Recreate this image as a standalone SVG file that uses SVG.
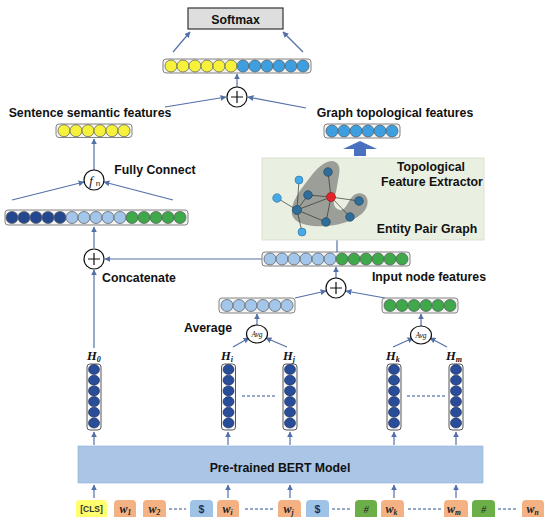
<svg xmlns="http://www.w3.org/2000/svg" width="550" height="526" viewBox="0 0 550 526">
<style>
.lbl{font-family:"Liberation Sans",Arial,sans-serif;font-weight:bold;font-size:12.3px;fill:#111}
.row{fill:#f4f4f4;stroke:#777;stroke-width:0.9}
.col{fill:#fafafa;stroke:#444;stroke-width:0.9}
.c{stroke:#555;stroke-width:0.7}
.y{fill:#f6f23c}
.b{fill:#3d9fe0}
.db{fill:#24488f}
.lb{fill:#a3c6ea}
.g{fill:#3ea84a}
.cd{fill:#2a4d9a;stroke:#1a2a50;stroke-width:0.6}
.ln{stroke:#5470a8;stroke-width:1.2;fill:none}
.dash{stroke:#2f4f8f;stroke-width:1;stroke-dasharray:3,2;fill:none}
.op{fill:#fff;stroke:#111;stroke-width:1.2}
.H{font-family:"Liberation Serif","Times New Roman",serif;font-weight:bold;font-style:italic;font-size:12.5px;fill:#111}
.tk{stroke:none}
.w{font-family:"Liberation Serif","Times New Roman",serif;font-weight:bold;font-style:italic;font-size:12px;fill:#222}
.e{stroke:#333;stroke-width:0.7}
.nd{fill:#2e6e98;stroke:#1b3f5a;stroke-width:0.6}
.nl{fill:#46a8e4;stroke:#2a6e9e;stroke-width:0.6}
.avg{font-family:"Liberation Serif","Times New Roman",serif;font-style:italic;font-size:7.5px;fill:#111}
</style>
<defs>
<marker id="ar" viewBox="0 0 10 10" refX="9" refY="5" markerWidth="6" markerHeight="6" markerUnits="userSpaceOnUse" orient="auto">
<path d="M0,0 L10,5 L0,10 z" fill="#5470a8"/>
</marker>
</defs>

<g id="connectors">
<line class="ln" x1="173" y1="52" x2="190" y2="32" marker-end="url(#ar)"/>
<line class="ln" x1="303" y1="52" x2="283" y2="32" marker-end="url(#ar)"/>
<line class="ln" x1="237" y1="87" x2="237" y2="74" marker-end="url(#ar)"/>
<line class="ln" x1="165" y1="107" x2="226" y2="97" marker-end="url(#ar)"/>
<line class="ln" x1="306" y1="108" x2="248" y2="97" marker-end="url(#ar)"/>
<line class="ln" x1="94" y1="170" x2="94" y2="139" marker-end="url(#ar)"/>
<line class="ln" x1="12" y1="200" x2="84" y2="182" marker-end="url(#ar)"/>
<line class="ln" x1="173" y1="200" x2="104" y2="182" marker-end="url(#ar)"/>
<line class="ln" x1="94" y1="248" x2="94" y2="227" marker-end="url(#ar)"/>
<line class="ln" x1="262" y1="259" x2="105" y2="259" marker-end="url(#ar)"/>
<line class="ln" x1="94" y1="348" x2="94" y2="270" marker-end="url(#ar)"/>
<line class="ln" x1="337" y1="252" x2="337" y2="208"/>
<line class="ln" x1="336" y1="278" x2="336" y2="267" marker-end="url(#ar)"/>
<line class="ln" x1="295" y1="298" x2="326" y2="291" marker-end="url(#ar)"/>
<line class="ln" x1="385" y1="298" x2="346" y2="291" marker-end="url(#ar)"/>
<line class="ln" x1="257" y1="325" x2="257" y2="314" marker-end="url(#ar)"/>
<line class="ln" x1="421" y1="326" x2="421" y2="314" marker-end="url(#ar)"/>
<line class="ln" x1="233" y1="347" x2="249" y2="338" marker-end="url(#ar)"/>
<line class="ln" x1="287" y1="347" x2="266" y2="338" marker-end="url(#ar)"/>
<line class="ln" x1="393" y1="347" x2="413" y2="338" marker-end="url(#ar)"/>
<line class="ln" x1="447" y1="347" x2="430" y2="338" marker-end="url(#ar)"/>
<g>
<line class="ln" x1="94" y1="445" x2="94" y2="432" marker-end="url(#ar)"/>
<line class="ln" x1="228" y1="445" x2="228" y2="432" marker-end="url(#ar)"/>
<line class="ln" x1="290" y1="445" x2="290" y2="432" marker-end="url(#ar)"/>
<line class="ln" x1="394" y1="445" x2="394" y2="432" marker-end="url(#ar)"/>
<line class="ln" x1="456" y1="445" x2="456" y2="432" marker-end="url(#ar)"/>
<line class="ln" x1="94" y1="498" x2="94" y2="485" marker-end="url(#ar)"/>
<line class="ln" x1="228" y1="498" x2="228" y2="485" marker-end="url(#ar)"/>
<line class="ln" x1="290" y1="498" x2="290" y2="485" marker-end="url(#ar)"/>
<line class="ln" x1="394" y1="498" x2="394" y2="485" marker-end="url(#ar)"/>
<line class="ln" x1="456" y1="498" x2="456" y2="485" marker-end="url(#ar)"/>
</g>
<line class="dash" x1="242" y1="396" x2="277" y2="396"/>
<line class="dash" x1="407" y1="396" x2="445" y2="396"/>
</g>

<g id="softmax">
<rect x="188" y="8" width="95" height="21" fill="#dedede" stroke="#333" stroke-width="1.2"/>
<text class="lbl" x="235.5" y="24" text-anchor="middle" font-size="15">Softmax</text>
</g>

<g id="final-row">
<rect class="row" x="163" y="59" width="148" height="14" rx="3"/>
<circle class="c y" cx="171" cy="66" r="6"/><circle class="c y" cx="183" cy="66" r="6"/><circle class="c y" cx="195" cy="66" r="6"/><circle class="c y" cx="207" cy="66" r="6"/><circle class="c y" cx="219" cy="66" r="6"/><circle class="c y" cx="231" cy="66" r="6"/>
<circle class="c b" cx="243" cy="66" r="6"/><circle class="c b" cx="255" cy="66" r="6"/><circle class="c b" cx="267" cy="66" r="6"/><circle class="c b" cx="279" cy="66" r="6"/><circle class="c b" cx="291" cy="66" r="6"/><circle class="c b" cx="303" cy="66" r="6"/>
</g>

<g id="plus-top">
<circle class="op" cx="237" cy="97" r="10"/>
<path d="M231,97 H243 M237,91 V103" stroke="#111" stroke-width="1.2"/>
</g>

<g id="sentence-features">
<text class="lbl" x="90" y="117" text-anchor="middle">Sentence semantic features</text>
<rect class="row" x="56" y="124" width="76" height="13.5" rx="3"/>
<circle class="c y" cx="64" cy="130.7" r="6"/><circle class="c y" cx="76" cy="130.7" r="6"/><circle class="c y" cx="88" cy="130.7" r="6"/><circle class="c y" cx="100" cy="130.7" r="6"/><circle class="c y" cx="112" cy="130.7" r="6"/><circle class="c y" cx="124" cy="130.7" r="6"/>
</g>

<g id="graph-features">
<text class="lbl" x="395" y="117" text-anchor="middle" font-size="12.8">Graph topological features</text>
<rect class="row" x="324" y="124" width="76" height="14" rx="3"/>
<circle class="c b" cx="332" cy="131" r="6"/><circle class="c b" cx="344" cy="131" r="6"/><circle class="c b" cx="356" cy="131" r="6"/><circle class="c b" cx="368" cy="131" r="6"/><circle class="c b" cx="380" cy="131" r="6"/><circle class="c b" cx="392" cy="131" r="6"/>
<path d="M343,149 L360,141 L377,149 L366,149 L366,156 L354,156 L354,149 Z" fill="#4a70c0"/>
</g>

<g id="fn-node">
<circle class="op" cx="94" cy="180" r="10"/>
<text x="91" y="184.5" text-anchor="middle" font-family="Liberation Serif,serif" font-style="italic" font-size="13" fill="#111">f</text>
<text x="98" y="186" text-anchor="middle" font-family="Liberation Sans,sans-serif" font-size="8" fill="#111">n</text>
<text class="lbl" x="155" y="174" text-anchor="middle">Fully Connect</text>
</g>

<g id="concat-row">
<rect class="row" x="5" y="210" width="183" height="15" rx="3"/>
<circle class="c db" cx="12" cy="217.5" r="6"/><circle class="c db" cx="24" cy="217.5" r="6"/><circle class="c db" cx="36" cy="217.5" r="6"/><circle class="c db" cx="48" cy="217.5" r="6"/><circle class="c db" cx="60" cy="217.5" r="6"/>
<circle class="c lb" cx="72" cy="217.5" r="6"/><circle class="c lb" cx="84" cy="217.5" r="6"/><circle class="c lb" cx="96" cy="217.5" r="6"/><circle class="c lb" cx="108" cy="217.5" r="6"/><circle class="c lb" cx="120" cy="217.5" r="6"/>
<circle class="c g" cx="132" cy="217.5" r="6"/><circle class="c g" cx="144" cy="217.5" r="6"/><circle class="c g" cx="156" cy="217.5" r="6"/><circle class="c g" cx="168" cy="217.5" r="6"/><circle class="c g" cx="180" cy="217.5" r="6"/>
</g>

<g id="plus-concat">
<circle class="op" cx="94" cy="259" r="10"/>
<path d="M88,259 H100 M94,253 V265" stroke="#111" stroke-width="1.2"/>
<text class="lbl" x="139" y="282" text-anchor="middle">Concatenate</text>
</g>

<g id="graph-panel">
<rect x="262" y="158" width="222" height="82" fill="#eaf0e1" stroke="#d6dccb" stroke-width="0.8"/>
<path d="M325,163 C333,158 342,162 339,175 L336,192 C333,200 332,208 340,210 C346,211 348,200 354,195 C362,190 370,196 367,206 C364,216 350,222 335,225 C318,228 298,226 293,217 C288,206 300,190 308,180 C314,172 318,167 325,163 Z" fill="#9c9e98"/>
<g>
<line class="e" x1="297" y1="210" x2="277" y2="198"/>
<line class="e" x1="297" y1="210" x2="299" y2="180"/>
<line class="e" x1="297" y1="210" x2="308" y2="195"/>
<line class="e" x1="297" y1="210" x2="331" y2="197"/>
<line class="e" x1="297" y1="210" x2="326" y2="222"/>
<line class="e" x1="297" y1="210" x2="302" y2="232"/>
<line class="e" x1="331" y1="197" x2="328" y2="172"/>
<line class="e" x1="331" y1="197" x2="308" y2="195"/>
<line class="e" x1="331" y1="197" x2="359" y2="201"/>
<line class="e" x1="331" y1="197" x2="350" y2="217"/>
<line class="e" x1="331" y1="197" x2="326" y2="222"/>
</g>
<circle class="nd" cx="328" cy="172" r="4.3"/>
<circle class="nl" cx="299" cy="180" r="4"/>
<circle class="nl" cx="277" cy="198" r="4.3"/>
<circle class="nd" cx="308" cy="195" r="4.3"/>
<circle class="nd" cx="297" cy="210" r="4.5"/>
<circle class="nd" cx="359" cy="201" r="4.3"/>
<circle class="nd" cx="350" cy="217" r="4.3"/>
<circle class="nd" cx="326" cy="222" r="4.3"/>
<circle class="nl" cx="302" cy="232" r="4"/>
<circle cx="331" cy="197" r="4.5" fill="#e3242b" stroke="#8a1010" stroke-width="0.6"/>
<text class="lbl" x="431" y="171" text-anchor="middle" font-size="12.8">Topological</text>
<text class="lbl" x="432" y="186" text-anchor="middle" font-size="12.8">Feature Extractor</text>
<text class="lbl" x="427" y="233" text-anchor="middle" font-size="12.8">Entity Pair Graph</text>
</g>

<g id="input-row">
<rect class="row" x="262" y="252" width="148" height="14" rx="3"/>
<circle class="c lb" cx="270" cy="259" r="6"/><circle class="c lb" cx="282" cy="259" r="6"/><circle class="c lb" cx="294" cy="259" r="6"/><circle class="c lb" cx="306" cy="259" r="6"/><circle class="c lb" cx="318" cy="259" r="6"/><circle class="c lb" cx="330" cy="259" r="6"/>
<circle class="c g" cx="342" cy="259" r="6"/><circle class="c g" cx="354" cy="259" r="6"/><circle class="c g" cx="366" cy="259" r="6"/><circle class="c g" cx="378" cy="259" r="6"/><circle class="c g" cx="390" cy="259" r="6"/><circle class="c g" cx="402" cy="259" r="6"/>
<text class="lbl" x="429" y="281" text-anchor="middle" font-size="12.8">Input node features</text>
</g>

<g id="plus-input">
<circle class="op" cx="336" cy="288" r="10"/>
<path d="M330,288 H342 M336,282 V294" stroke="#111" stroke-width="1.2"/>
</g>

<g id="avg-row-1">
<rect class="row" x="219" y="298" width="76" height="15" rx="3"/>
<circle class="c lb" cx="227" cy="305.5" r="6"/><circle class="c lb" cx="239" cy="305.5" r="6"/><circle class="c lb" cx="251" cy="305.5" r="6"/><circle class="c lb" cx="263" cy="305.5" r="6"/><circle class="c lb" cx="275" cy="305.5" r="6"/><circle class="c lb" cx="287" cy="305.5" r="6"/>
</g>
<g id="avg-row-2">
<rect class="row" x="382" y="298" width="76" height="15" rx="3"/>
<circle class="c g" cx="390" cy="305.5" r="6"/><circle class="c g" cx="402" cy="305.5" r="6"/><circle class="c g" cx="414" cy="305.5" r="6"/><circle class="c g" cx="426" cy="305.5" r="6"/><circle class="c g" cx="438" cy="305.5" r="6"/><circle class="c g" cx="450" cy="305.5" r="6"/>
</g>

<g id="avg-1">
<ellipse class="op" cx="257" cy="334" rx="10.5" ry="9"/>
<text class="avg" x="257" y="336.5" text-anchor="middle">Avg</text>
<text class="lbl" x="208" y="332" text-anchor="middle">Average</text>
</g>
<g id="avg-2">
<ellipse class="op" cx="421" cy="335" rx="10.5" ry="9"/>
<text class="avg" x="421" y="337.5" text-anchor="middle">Avg</text>
</g>

<g id="H0">
<text class="H" x="87" y="360">H<tspan font-size="8" dy="2">0</tspan></text>
<rect class="col" x="87" y="364" width="14" height="66" rx="3"/>
<ellipse class="cd" cx="94" cy="369.5" rx="5.5" ry="5"/><ellipse class="cd" cx="94" cy="380.2" rx="5.5" ry="5"/><ellipse class="cd" cx="94" cy="390.9" rx="5.5" ry="5"/><ellipse class="cd" cx="94" cy="401.6" rx="5.5" ry="5"/><ellipse class="cd" cx="94" cy="412.3" rx="5.5" ry="5"/><ellipse class="cd" cx="94" cy="423" rx="5.5" ry="5"/>
</g>
<g id="Hi">
<text class="H" x="221" y="360">H<tspan font-size="8" dy="2">i</tspan></text>
<rect class="col" x="221.5" y="364" width="14" height="66" rx="3"/>
<ellipse class="cd" cx="228.5" cy="369.5" rx="5.5" ry="5"/><ellipse class="cd" cx="228.5" cy="380.2" rx="5.5" ry="5"/><ellipse class="cd" cx="228.5" cy="390.9" rx="5.5" ry="5"/><ellipse class="cd" cx="228.5" cy="401.6" rx="5.5" ry="5"/><ellipse class="cd" cx="228.5" cy="412.3" rx="5.5" ry="5"/><ellipse class="cd" cx="228.5" cy="423" rx="5.5" ry="5"/>
</g>
<g id="Hj">
<text class="H" x="283" y="360">H<tspan font-size="8" dy="2">j</tspan></text>
<rect class="col" x="283" y="364" width="14" height="66" rx="3"/>
<ellipse class="cd" cx="290" cy="369.5" rx="5.5" ry="5"/><ellipse class="cd" cx="290" cy="380.2" rx="5.5" ry="5"/><ellipse class="cd" cx="290" cy="390.9" rx="5.5" ry="5"/><ellipse class="cd" cx="290" cy="401.6" rx="5.5" ry="5"/><ellipse class="cd" cx="290" cy="412.3" rx="5.5" ry="5"/><ellipse class="cd" cx="290" cy="423" rx="5.5" ry="5"/>
</g>
<g id="Hk">
<text class="H" x="386" y="360">H<tspan font-size="8" dy="2">k</tspan></text>
<rect class="col" x="387" y="364" width="14" height="66" rx="3"/>
<ellipse class="cd" cx="394" cy="369.5" rx="5.5" ry="5"/><ellipse class="cd" cx="394" cy="380.2" rx="5.5" ry="5"/><ellipse class="cd" cx="394" cy="390.9" rx="5.5" ry="5"/><ellipse class="cd" cx="394" cy="401.6" rx="5.5" ry="5"/><ellipse class="cd" cx="394" cy="412.3" rx="5.5" ry="5"/><ellipse class="cd" cx="394" cy="423" rx="5.5" ry="5"/>
</g>
<g id="Hm">
<text class="H" x="446" y="360">H<tspan font-size="8" dy="2">m</tspan></text>
<rect class="col" x="449" y="364" width="14" height="66" rx="3"/>
<ellipse class="cd" cx="456" cy="369.5" rx="5.5" ry="5"/><ellipse class="cd" cx="456" cy="380.2" rx="5.5" ry="5"/><ellipse class="cd" cx="456" cy="390.9" rx="5.5" ry="5"/><ellipse class="cd" cx="456" cy="401.6" rx="5.5" ry="5"/><ellipse class="cd" cx="456" cy="412.3" rx="5.5" ry="5"/><ellipse class="cd" cx="456" cy="423" rx="5.5" ry="5"/>
</g>

<g id="bert">
<rect x="78" y="446" width="405" height="37" fill="#aac5e6" stroke="#8fb0d8" stroke-width="0.6"/>
<text class="lbl" x="280" y="471.5" text-anchor="middle" font-size="16.5">Pre-trained BERT Model</text>
</g>

<g id="tokens">
<g id="tok-cls"><path class="tk" d="M76,517 V504 Q76,500 80,500 H103 Q107,500 107,504 V517 Z" fill="#ffff6e"/><text x="91.5" y="512" text-anchor="middle" font-family="Liberation Sans,sans-serif" font-weight="bold" font-size="8.5" fill="#333">[CLS]</text></g>
<g id="tok-w1"><path class="tk" d="M114,517 V504 Q114,500 118,500 H132 Q136,500 136,504 V517 Z" fill="#f4b184"/><text class="w" x="119.5" y="512.5">w<tspan font-size="7.5" dy="2">1</tspan></text></g>
<g id="tok-w2"><path class="tk" d="M143,517 V504 Q143,500 147,500 H162 Q166,500 166,504 V517 Z" fill="#f4b184"/><text class="w" x="148.5" y="512.5">w<tspan font-size="7.5" dy="2">2</tspan></text></g>
<line class="dash" x1="169" y1="509" x2="186" y2="509"/>
<g id="tok-s1"><path class="tk" d="M190,517 V504 Q190,500 194,500 H209 Q213,500 213,504 V517 Z" fill="#9fc3e6"/><text x="201.5" y="512.5" text-anchor="middle" font-family="Liberation Sans,sans-serif" font-weight="bold" font-size="10.5" fill="#1f2f5a">$</text></g>
<g id="tok-wi"><path class="tk" d="M217,517 V504 Q217,500 221,500 H235 Q239,500 239,504 V517 Z" fill="#f4b184"/><text class="w" x="222.5" y="512.5">w<tspan font-size="7.5" dy="2">i</tspan></text></g>
<line class="dash" x1="245" y1="509" x2="273" y2="509"/>
<g id="tok-wj"><path class="tk" d="M278,517 V504 Q278,500 282,500 H297 Q301,500 301,504 V517 Z" fill="#f4b184"/><text class="w" x="283.5" y="512.5">w<tspan font-size="7.5" dy="2">j</tspan></text></g>
<g id="tok-s2"><path class="tk" d="M306,517 V504 Q306,500 310,500 H325 Q329,500 329,504 V517 Z" fill="#9fc3e6"/><text x="317.5" y="512.5" text-anchor="middle" font-family="Liberation Sans,sans-serif" font-weight="bold" font-size="10.5" fill="#1f2f5a">$</text></g>
<line class="dash" x1="332" y1="509" x2="352" y2="509"/>
<g id="tok-h1"><path class="tk" d="M355,517 V504 Q355,500 359,500 H373 Q377,500 377,504 V517 Z" fill="#6cae48"/><text x="366" y="512.5" text-anchor="middle" font-family="Liberation Serif,serif" font-style="italic" font-size="10.5" fill="#222">#</text></g>
<g id="tok-wk"><path class="tk" d="M381,517 V504 Q381,500 385,500 H400 Q404,500 404,504 V517 Z" fill="#f4b184"/><text class="w" x="385.5" y="512.5">w<tspan font-size="7.5" dy="2">k</tspan></text></g>
<line class="dash" x1="408" y1="509" x2="442" y2="509"/>
<g id="tok-wm"><path class="tk" d="M444,517 V504 Q444,500 448,500 H464 Q468,500 468,504 V517 Z" fill="#f4b184"/><text class="w" x="447" y="512.5">w<tspan font-size="7.5" dy="2">m</tspan></text></g>
<g id="tok-h2"><path class="tk" d="M472,517 V504 Q472,500 476,500 H491 Q495,500 495,504 V517 Z" fill="#6cae48"/><text x="483.5" y="512.5" text-anchor="middle" font-family="Liberation Serif,serif" font-style="italic" font-size="10.5" fill="#222">#</text></g>
<line class="dash" x1="498" y1="509" x2="518" y2="509"/>
<g id="tok-wn"><path class="tk" d="M522,517 V504 Q522,500 526,500 H540 Q544,500 544,504 V517 Z" fill="#f4b184"/><text class="w" x="526.5" y="512.5">w<tspan font-size="7.5" dy="2">n</tspan></text></g>
</g>
</svg>
